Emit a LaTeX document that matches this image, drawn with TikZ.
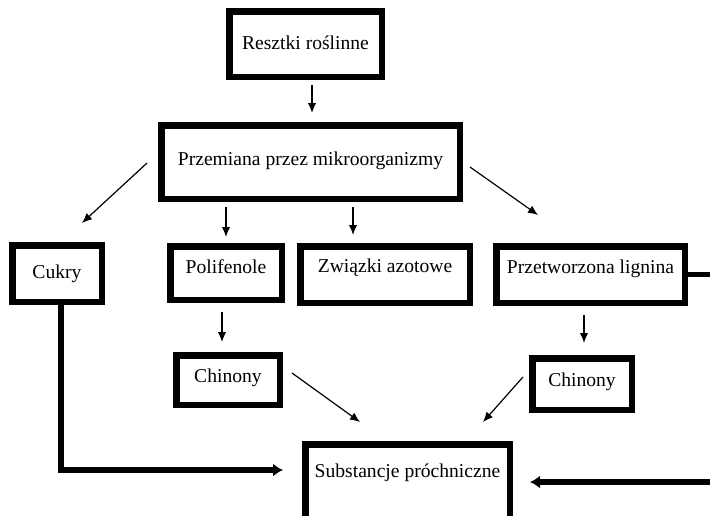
\documentclass[tikz,border=0pt]{standalone}
\usepackage{fontspec}
\setmainfont{Liberation Serif}
\usetikzlibrary{arrows.meta}

\begin{document}
\begin{tikzpicture}[x=0.5pt,y=-0.5pt]

\tikzset{box/.style={draw=black, fill=white, line width=3.25pt, inner sep=0pt, text height=7pt, text depth=2pt, font=\fontsize{9.8pt}{12pt}\selectfont}}
\tikzset{arr/.style={line width=0.6pt, -{Latex[length=5pt,width=4.2pt]}}}
\tikzset{thickarr/.style={line width=2.8pt, -{Latex[length=5pt,width=6.5pt]}}}

\useasboundingbox (0,0) rectangle (710,515);
\clip (0,0) rectangle (710,515);

\node[box, minimum width=76.25pt, minimum height=32.75pt] (res) at (305.5,44) {Resztki roślinne};
\node[box, minimum width=149.25pt, minimum height=36.75pt, text depth=4pt] (prz) at (310.5,162) {Przemiana przez mikroorganizmy};
\node[box, minimum width=44.75pt, minimum height=28.25pt] (cuk) at (57,273.5) {Cukry};
\node[box, minimum width=55.75pt, minimum height=26.75pt, text depth=7pt] (pol) at (226,273) {Polifenole};
\node[box, minimum width=84.75pt, minimum height=28.25pt, text depth=9pt] (zwi) at (385,274.5) {Związki azotowe};
\node[box, minimum width=94.25pt, minimum height=28.25pt, text depth=8pt] (lig) at (590.5,274.5) {Przetworzona lignina};
\node[box, minimum width=51.75pt, minimum height=24.75pt, text depth=5pt] (chl) at (228,380) {Chinony};
\node[box, minimum width=49.75pt, minimum height=25.75pt, text depth=5pt] (chr) at (582,384) {Chinony};
\node[box, minimum width=102.25pt, minimum height=40.25pt, text depth=14.5pt] (sub) at (407.5,484.5) {Substancje próchniczne};

\draw[arr, shorten <=2.5pt, shorten >=4.5pt] ([xshift=3.25pt]res.south) -- ([xshift=0.75pt]prz.north);
\draw[arr] ([xshift=-5.5pt,yshift=-0.5pt]prz.west) -- ([xshift=12.5pt,yshift=9.5pt]cuk.north);
\draw[arr, shorten <=2.5pt, shorten >=3pt] (pol.north |- prz.south) -- (pol.north);
\draw[arr, shorten <=2.5pt, shorten >=4pt] ([xshift=21.25pt]prz.south) -- ([xshift=-16pt]zwi.north);
\draw[arr] ([xshift=3.5pt,yshift=-2.5pt]prz.east) -- ([xshift=-26.25pt,yshift=14pt]lig.north);
\draw[arr, shorten <=4.5pt, shorten >=5pt] ([xshift=-2pt]pol.south) -- ([xshift=-3pt]chl.north);
\draw[arr, shorten <=4.5pt, shorten >=6pt] ([xshift=-3.25pt]lig.south) -- ([xshift=1pt]chr.north);
\draw[arr] ([xshift=4.5pt,yshift=3.5pt]chl.east) -- ([xshift=-23.75pt,yshift=9.5pt]sub.north);
\draw[arr] ([xshift=-3pt,yshift=3.5pt]chr.west) -- ([xshift=37.75pt,yshift=9.5pt]sub.north);

\draw[thickarr] ([xshift=2pt]cuk.south) |- ([xshift=-9.5pt,yshift=7.25pt]sub.west);
\draw[thickarr] (lig.east) -- ++(25pt,0pt) |- ([xshift=8.5pt,yshift=1.25pt]sub.east);

\end{tikzpicture}
\end{document}
